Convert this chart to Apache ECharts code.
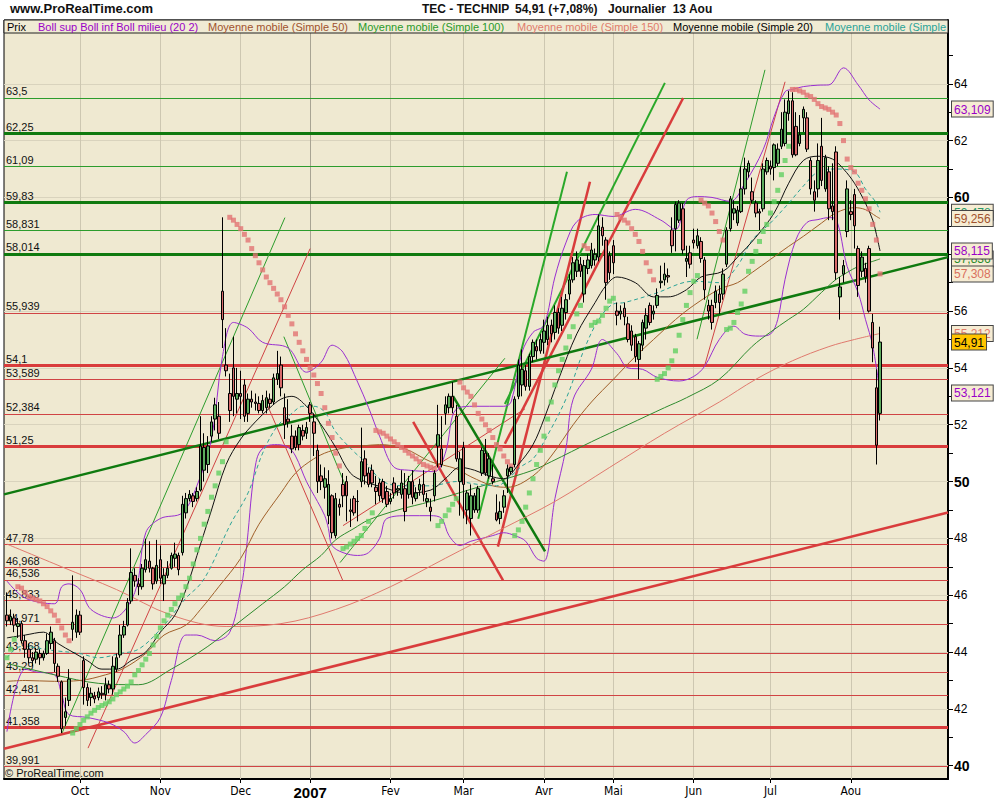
<!DOCTYPE html>
<html><head><meta charset="utf-8">
<script src="https://cdn.jsdelivr.net/npm/echarts@6/dist/echarts.min.js"></script>
<style>html,body{margin:0;padding:0;background:#fff}#c{width:1000px;height:800px}</style>
</head><body><div id="c"></div>
<script>
// ---------- DATA ----------
// one row per trading day from 4 Sept 2006 (index 0) to 13 Aug 2007 (index 239): [open, close, low, high]
const ohlc = [
[45.30,45.10,44.90,46.10],[45.10,45.25,44.95,45.50],[45.20,44.95,44.70,45.35],[44.90,45.00,44.50,45.20],[45.00,44.40,44.30,45.10],
[44.40,44.10,43.80,44.60],[44.10,43.80,43.60,44.30],[43.80,43.70,43.50,44.00],[43.75,44.00,43.60,44.15],[43.95,43.80,43.55,44.10],
[43.80,43.95,43.70,44.05],[43.95,44.40,43.90,44.65],[44.30,44.70,44.10,44.90],[44.40,43.60,43.30,44.50],[43.50,43.15,42.95,43.60],
[42.95,41.30,41.15,43.00],[41.70,41.90,41.40,42.40],[42.30,43.05,42.10,43.40],[44.80,45.05,44.40,46.70],[44.70,45.30,44.50,45.50],
[45.30,44.70,44.60,45.45],[43.70,42.75,42.15,43.85],[42.75,42.30,42.10,42.90],[42.40,42.55,42.10,42.75],[42.45,42.35,42.20,42.60],
[42.40,42.60,42.30,42.75],[42.55,42.50,42.35,42.80],[42.50,42.85,42.30,43.10],[42.85,42.70,42.55,43.00],[42.70,43.50,42.50,43.85],
[43.40,43.80,43.30,43.95],[43.90,44.60,43.80,44.95],[44.60,44.90,44.50,45.10],[44.95,45.75,44.90,45.90],[45.80,46.80,45.70,47.65],
[46.70,46.50,46.30,46.95],[46.40,46.30,46.00,46.60],[46.30,46.95,46.20,47.10],[46.90,47.25,46.80,47.99],[47.20,46.95,46.80,47.90],
[46.95,46.40,46.20,47.00],[46.50,47.05,46.40,47.95],[47.25,46.60,46.40,47.75],[46.40,46.70,45.80,46.95],[46.70,46.95,46.60,47.20],
[46.95,47.40,46.90,47.50],[47.30,47.45,47.00,47.85],[47.40,46.90,46.70,47.50],[47.50,49.20,47.40,49.50],[48.90,49.40,48.70,49.60],
[49.40,49.55,49.30,49.70],[49.50,49.30,49.10,49.60],[49.40,49.65,49.30,49.80],[49.70,51.25,49.65,52.30],[50.40,51.20,50.00,51.70],
[50.60,51.25,50.30,51.60],[51.60,52.10,51.40,52.30],[52.20,52.70,51.80,52.95],[52.30,51.70,51.50,52.80],[56.70,55.70,54.70,59.30],
[54.10,53.90,53.70,55.40],[53.10,52.50,52.10,53.80],[54.00,53.00,52.30,55.10],[52.90,53.10,52.40,54.00],[53.10,53.00,52.20,53.90],
[53.40,52.30,52.10,53.60],[52.40,52.90,52.10,53.10],[52.90,52.80,52.60,53.20],[52.80,52.75,52.50,53.10],[52.75,52.50,52.40,53.00],
[52.50,52.85,52.40,53.05],[52.60,52.95,52.40,53.20],[52.90,52.75,52.60,53.10],[52.80,53.65,52.70,53.80],[53.60,53.80,53.40,54.60],
[54.10,53.30,53.00,54.40],[52.60,52.00,51.50,53.10],[52.20,52.10,51.90,52.90],[51.60,51.15,51.00,52.00],[51.60,51.20,51.10,51.80],
[51.30,51.90,51.10,52.00],[51.80,51.60,51.45,52.00],[51.70,51.90,51.50,52.10],[52.70,52.40,52.10,52.80],[52.10,51.70,50.90,52.40],
[51.10,50.00,49.60,51.30],[50.20,50.00,49.70,50.60],[49.80,50.10,49.40,50.50],[48.80,49.90,48.50,50.40],[49.50,48.20,48.00,49.55],
[48.10,49.40,48.00,49.60],[49.20,49.10,48.80,49.40],[49.90,49.50,49.10,50.30],[50.00,49.50,48.60,50.20],[49.00,48.95,48.40,49.40],
[49.40,48.90,48.80,49.50],[49.30,49.30,48.60,49.70],[50.00,50.70,49.80,51.90],[50.80,50.20,49.90,51.10],[50.30,49.90,49.80,50.50],
[50.40,49.95,49.80,50.60],[49.80,49.65,49.20,50.20],[49.95,49.50,49.30,50.10],[50.00,49.40,49.25,50.10],[49.65,49.20,49.10,49.85],
[49.30,49.40,49.20,49.60],[49.95,49.60,49.40,50.15],[49.70,49.75,49.50,49.85],[49.55,49.95,49.40,50.40],[49.75,48.95,48.60,50.30],
[49.55,50.00,49.40,50.20],[50.00,49.45,49.20,50.40],[49.40,49.60,49.30,49.80],[49.70,49.90,49.50,50.10],[49.90,49.55,49.30,50.40],
[49.30,49.40,49.10,49.60],[49.10,48.95,48.60,49.40],[49.50,50.30,49.30,50.40],[51.25,51.65,50.50,52.70],[51.15,50.60,50.50,52.30],
[52.40,52.70,52.00,53.00],[52.60,53.00,52.40,53.10],[53.00,52.60,52.40,53.50],[52.30,50.80,50.70,52.70],[50.00,50.80,48.80,51.05],
[51.20,49.90,48.70,51.40],[49.00,49.60,48.50,49.70],[48.70,49.50,48.10,49.90],[49.00,49.50,48.90,49.60],[49.00,49.75,48.90,49.85],
[50.30,51.10,50.20,51.20],[51.00,50.30,50.20,51.50],[50.20,50.80,50.10,51.00],[50.10,50.00,49.90,50.60],[48.90,48.65,48.60,49.55],
[48.70,48.95,48.50,49.30],[49.10,49.50,48.90,49.70],[50.20,50.45,49.60,50.60],[50.35,50.50,50.25,50.52],[50.60,52.90,50.50,53.00],
[53.00,54.10,52.90,54.30],[53.40,53.95,53.00,54.65],[53.90,53.35,53.20,54.10],[53.35,54.40,53.20,54.50],[54.40,54.90,54.20,55.00],
[54.75,54.60,54.30,55.00],[54.60,55.00,54.50,55.20],[54.90,55.30,54.50,55.70],[55.00,55.50,54.80,55.80],[55.50,55.20,54.90,55.70],
[55.25,55.95,55.00,56.20],[55.95,55.40,55.20,56.10],[55.50,56.10,55.30,56.50],[55.95,56.40,55.70,56.60],[56.60,57.10,56.40,57.30],
[57.10,57.70,57.00,57.90],[57.40,57.80,57.20,58.10],[57.65,57.40,57.20,57.90],[56.60,57.60,56.30,57.80],[57.50,57.80,57.30,58.00],
[57.60,58.15,57.50,58.40],[57.80,58.00,57.60,58.20],[57.90,59.00,57.75,59.40],[58.95,58.65,58.30,59.30],[58.50,57.00,56.40,58.60],
[57.95,57.35,57.10,58.10],[58.30,57.70,57.30,58.50],[56.00,55.85,55.50,56.30],[55.90,56.00,55.70,56.20],[56.10,55.80,55.50,56.30],
[55.55,55.00,54.90,55.80],[55.30,54.80,54.60,55.50],[55.10,54.40,54.20,55.20],[54.30,54.85,53.60,54.95],[54.80,55.60,54.60,55.70],
[55.40,55.85,55.00,56.10],[56.20,55.60,55.50,56.30],[55.90,56.00,55.70,56.20],[56.20,56.55,56.10,56.80],[57.00,57.05,56.80,57.60],
[57.10,57.30,56.90,57.70],[57.25,57.20,57.00,57.50],[58.85,58.30,58.05,59.30],[58.90,59.75,58.10,59.85],[59.20,59.80,59.10,59.90],
[59.60,58.15,58.00,59.80],[57.75,57.85,57.20,58.30],[58.05,57.65,57.50,58.30],[58.50,58.40,58.20,58.90],[58.30,58.65,58.20,58.90],
[58.45,57.85,57.70,58.60],[57.80,56.75,56.40,57.90],[56.20,56.00,55.70,56.40],[56.20,55.60,55.35,56.40],[56.30,56.70,56.10,56.90],
[56.60,56.30,55.90,56.90],[56.60,57.30,56.40,57.50],[57.65,58.85,57.55,58.95],[58.90,59.95,58.80,60.05],[59.45,59.60,59.20,59.90],
[59.10,59.55,59.00,59.70],[59.50,60.30,59.45,61.10],[60.30,61.00,60.10,61.40],[60.90,61.20,60.70,61.30],[60.20,59.90,59.80,60.70],
[59.80,59.45,59.30,59.90],[59.50,59.45,58.85,59.60],[59.60,61.00,59.50,61.20],[60.90,61.30,60.80,61.40],[61.10,61.00,60.80,61.30],
[61.05,61.85,60.60,61.90],[61.20,61.70,61.10,61.90],[61.80,62.40,61.70,63.00],[61.90,63.00,61.80,63.45],[62.95,63.40,62.70,63.75],
[63.40,61.50,61.40,63.70],[62.50,61.50,61.45,63.00],[61.90,62.20,61.80,62.90],[62.80,63.10,62.30,63.20],[62.80,61.70,61.60,63.00],
[61.30,60.30,60.10,61.40],[60.20,59.90,59.50,60.60],[60.30,61.30,60.00,61.90],[61.80,60.60,60.40,62.80],[60.30,61.40,60.20,61.50],
[60.90,59.60,59.20,61.10],[59.70,59.50,59.20,61.20],[61.60,57.35,57.10,61.80],[56.50,56.85,55.70,57.20],[57.30,57.60,57.00,57.80],
[58.80,60.30,58.60,60.60],[59.50,59.40,59.20,59.90],[60.10,59.00,58.20,60.30],[58.20,56.90,56.50,58.30],[57.40,57.90,57.20,58.10],
[57.50,57.20,57.00,57.70],[58.20,56.00,55.95,58.30],[55.60,54.70,54.20,55.90],[53.30,51.28,50.60,53.95],[52.40,54.91,52.15,55.45]
];

// parabolic SAR dot per trading day
const sar = [
43.8,44.1,44.45,
46.3,46.25,46.1,45.95,45.9,45.85,45.8,45.7,45.6,45.45,45.3,45.1,44.85,44.6,44.4,
41.15,41.3,41.45,41.6,41.72,41.85,41.95,42.05,42.12,42.18,42.25,42.35,42.5,42.6,42.7,42.8,42.95,43.2,43.35,43.55,43.75,43.95,44.25,44.55,44.85,45.1,45.3,45.5,45.7,45.9,46.0,46.3,46.6,47.1,47.6,48.0,48.5,48.95,49.45,49.85,50.3,50.7,51.4,
59.3,59.2,59.05,58.9,58.7,58.5,58.2,57.95,57.7,57.45,57.2,57.0,56.8,56.6,56.4,56.15,55.85,55.55,55.2,54.9,54.6,54.3,54.0,53.75,53.45,53.1,52.6,52.05,51.55,51.0,50.55,
47.64,47.7,47.8,47.9,48.0,48.1,48.35,48.6,48.9,
51.8,51.75,51.7,51.6,51.5,51.4,51.3,51.2,51.1,51.0,50.9,50.8,50.7,50.6,50.55,50.5,50.45,
48.45,48.6,48.8,49.0,49.2,49.4,
53.5,53.3,53.15,53.0,52.7,52.4,52.2,52.0,51.8,51.55,51.3,51.15,50.9,50.7,50.55,
48.1,48.3,48.6,49.1,49.6,50.1,50.6,51.1,51.6,52.2,52.8,53.4,53.9,54.3,54.7,55.1,55.45,55.9,56.2,
58.3,58.2,
55.5,55.6,55.65,55.85,56.1,56.35,56.45,
59.4,59.3,59.2,59.1,58.9,58.7,58.45,58.1,57.7,57.4,57.1,
53.6,53.7,53.8,54.0,54.25,54.6,55.15,55.7,56.2,56.65,57.05,57.25,
59.9,59.8,59.7,59.45,59.15,58.8,58.5,
55.35,55.4,55.6,55.95,56.25,56.7,57.4,57.75,58.1,58.45,58.8,59.05,59.45,59.85,60.25,60.8,61.3,61.8,
63.8,63.8,63.75,63.7,63.6,63.55,63.45,63.3,63.2,63.15,63.1,63.0,62.9,62.6,62.0,61.35,61.05,60.9,60.5,60.25,59.95,59.6,59.05,58.5,57.31
];

// indicator lines read at sample days: [day index, value]
const bollUp = [[0,46.5],[5,45.9],[13,45.7],[15,46.3],[17,46.4],[20,46.2],[23,45.5],[29,45.2],[35,46.1],[38,48.2],[42,48.7],[48,48.9],[52,49.85],[56,51.5],[59,54.4],[62,55.6],[66,55.4],[70,54.9],[77,54.7],[82,53.85],[86,54.2],[89,54.8],[92,54.55],[96,53.5],[99,52.6],[102,51.6],[106,50.5],[110,50.4],[117,50.35],[120,51.0],[123,52.55],[128,52.65],[136,52.65],[138,52.8],[141,54.55],[144,55.25],[147,55.5],[150,57.2],[153,58.4],[156,59.15],[161,59.4],[166,59.33],[172,59.58],[179,59.2],[183,58.87],[186,59.9],[189,60.03],[193,60.0],[198,59.86],[202,60.5],[207,61.68],[210,62.84],[213,63.72],[215,63.8],[218,63.9],[222,63.95],[225,63.96],[229,64.56],[233,63.96],[236,63.43],[239,63.109]];
const bollDn = [[0,41.2],[5,43.4],[8,43.3],[13,43.2],[15,42.5],[17,41.8],[22,41.7],[28,41.5],[32,41.2],[35,40.8],[38,41.1],[42,41.7],[45,43.0],[49,44.6],[52,44.6],[57,44.4],[61,44.7],[64,46.2],[65,47.0],[66,48.2],[67,49.6],[68,50.55],[69,51.0],[71,51.25],[74,51.3],[77,51.2],[79,50.9],[82,50.0],[85,49.3],[87,48.8],[88,48.35],[89,47.75],[92,47.5],[96,47.4],[99,47.5],[102,48.0],[104,48.7],[110,48.8],[116,48.8],[119,48.7],[121,48.1],[124,47.75],[127,47.9],[130,48.0],[133,48.1],[136,48.2],[139,48.1],[142,47.9],[145,47.3],[147,47.2],[150,49.4],[153,51.15],[155,52.9],[160,53.96],[163,55.0],[167,54.5],[170,54.0],[174,53.95],[178,53.67],[184,53.54],[188,53.7],[191,54.06],[195,55.0],[199,55.47],[202,55.19],[206,55.12],[209,55.19],[211,55.71],[213,57.12],[216,58.52],[219,59.12],[222,59.22],[225,59.29],[227,59.22],[230,57.57],[233,56.65],[235,55.71],[237,54.77],[239,53.121]];
const sma20 = [[0,44.5],[5,44.6],[10,44.7],[14,44.3],[18,44.0],[22,43.7],[26,43.4],[30,43.4],[34,43.7],[38,44.0],[42,44.7],[46,45.3],[49,46.2],[53,47.8],[56,49.0],[60,50.6],[64,51.5],[68,52.1],[72,52.6],[75,52.9],[78,53.0],[82,52.65],[86,52.0],[90,51.2],[94,50.3],[98,50.0],[103,49.8],[109,49.6],[116,49.7],[120,50.1],[124,50.5],[128,50.4],[132,50.2],[136,50.1],[140,50.6],[144,51.3],[147,52.2],[151,53.6],[156,55.2],[161,56.3],[164,56.9],[167,57.2],[172,57.0],[177,56.5],[181,56.5],[186,56.75],[190,57.2],[196,57.4],[200,57.9],[205,58.6],[210,59.45],[214,60.5],[218,61.3],[222,61.45],[226,61.35],[229,61.0],[232,60.5],[235,59.8],[237,59.2],[238,58.7],[239,58.115]];
const sma50 = [[0,42.97],[5,43.0],[13,42.97],[20,43.0],[27,43.2],[32,43.43],[38,43.95],[43,44.6],[49,44.95],[53,45.5],[58,46.3],[64,47.3],[69,48.5],[75,49.6],[79,50.3],[84,50.8],[88,51.05],[93,51.2],[97,51.25],[102,51.3],[109,51.15],[116,50.7],[123,50.45],[127,50.17],[133,49.85],[137,49.8],[144,50.2],[149,50.9],[155,52.0],[160,52.8],[166,53.6],[172,54.4],[177,55.0],[183,55.7],[188,56.2],[195,56.77],[200,57.0],[204,57.36],[209,57.82],[214,58.28],[218,58.63],[223,59.1],[227,59.46],[232,59.64],[235,59.57],[238,59.33],[239,59.256]];
const sma100 = [[0,43.6],[13,43.2],[25,42.9],[36,42.85],[45,43.4],[55,44.2],[62,44.9],[70,45.7],[76,46.3],[81,46.9],[86,47.4],[90,47.95],[95,48.35],[99,48.65],[107,49.0],[116,49.3],[125,49.65],[134,50.0],[144,50.4],[149,50.7],[160,51.4],[170,52.0],[180,52.6],[186,52.95],[195,53.6],[204,54.76],[209,55.26],[214,55.71],[218,56.06],[223,56.66],[227,57.12],[230,57.36],[233,57.57],[237,57.75],[239,57.836]];
const sma150 = [[0,47.8],[15,47.0],[30,46.2],[45,45.3],[60,44.9],[75,45.0],[90,45.5],[105,46.3],[120,47.3],[135,48.3],[150,49.3],[165,50.5],[180,51.7],[195,52.8],[205,53.6],[215,54.25],[225,54.75],[232,55.0],[239,55.212]];
const smaLast = [[0,43.8],[4,44.2],[13,44.05],[20,43.95],[25,43.8],[31,43.95],[36,44.1],[42,44.8],[49,45.9],[53,46.4],[56,47.05],[61,48.45],[66,49.6],[70,51.0],[74,51.95],[78,52.4],[81,52.65],[84,52.65],[87,52.45],[90,51.75],[95,51.05],[98,50.7],[103,50.0],[109,49.85],[116,49.85],[123,50.0],[129,49.9],[134,49.85],[138,50.2],[141,50.55],[144,50.8],[147,51.4],[153,52.9],[158,54.65],[162,55.7],[166,56.25],[169,56.3],[177,56.6],[188,57.05],[195,57.0],[200,57.6],[204,58.5],[209,59.1],[214,59.8],[218,60.4],[222,60.9],[227,61.0],[232,60.9],[235,60.3],[238,59.8],[239,59.478]];

// horizontal support / resistance levels
const greenLevelsThick = [62.25, 59.83, 58.014];
const greenLevelsThin = [63.5, 61.09, 58.831];
const redLevelsThick = [54.1, 51.25, 41.358];
const redLevelsThin = [55.939, 53.589, 52.384, 47.78, 46.968, 46.536, 45.833, 44.971, 43.968, 43.29, 42.481, 39.991];

// trend lines: [[day, value], [day, value]]
const trendGreenThick = [[[-0.8,49.55],[257.6,57.9]], [[122.1,53.01],[147.3,47.54]]];
const trendGreenMid = [[[129,48.69],[153.3,60.9]], [[136.3,52.73],[180.1,64.03]]];
const trendGreenThin = [[[15.1,41.15],[76.1,59.29]], [[75.8,55.1],[93,49.75]], [[91.2,47.15],[136.3,54.34]], [[188.9,55.01],[207.5,64.49]]];
const trendRedThick = [[[-0.8,40.6],[257.6,48.91]], [[111.2,52.1],[135.8,46.52]], [[134.4,47.71],[159.6,60.55]], [[136.3,51.33],[185.1,63.5]]];
const trendRedThin = [[[22.2,40.62],[83,58.2]], [[70.6,52.9],[92,46.5]], [[92,48.45],[141.8,52.56]], [[191.1,54.13],[213,64.07]]];

// axes
const monthStart = [20, 42, 64, 83, 105, 125, 147, 166, 188, 209, 231];
const monthNames = ['Oct', 'Nov', 'Dec', '2007', 'Fev', 'Mar', 'Avr', 'Mai', 'Jun', 'Jul', 'Aou'];
const priceLabels = [40, 42, 44, 46, 48, 50, 52, 54, 56, 58, 60, 62, 64];
const priceTicks = [40,41,42,43,44,45,46,47,48,49,50,51,52,53,54,55,56,57,58,59,60,61,62,63,64,65];
const lastValues = [63.109, 59.478, 59.256, 57.836, 58.115, 57.308, 55.212, 54.91, 53.121];
const lastKinds = ['boll', 'mal', 'ma50', 'ma100', 'boll', 'sar', 'ma150', 'price', 'boll'];

// legend texts
const legendItems = ['Prix', 'Boll sup Boll inf Boll milieu (20 2)', 'Moyenne mobile (Simple 50)', 'Moyenne mobile (Simple 100)', 'Moyenne mobile (Simple 150)', 'Moyenne mobile (Simple 20)', 'Moyenne mobile (Simple'];

// ---------- STYLE ----------
const C = {
  bg: '#efe9d1', up: '#5cab5c', down: '#d86a6a', boll: '#9a2fd0', ma20: '#111', ma50: '#a0602a',
  ma100: '#2e8b2e', ma150: '#e07a6e', mal: '#2aa396', sarR: '#e27373', sarG: '#62d062',
  gThick: '#0f7a0f', gThin: '#2c9c2c', gMid: '#2aa82a', rThick: '#d93c3c', rThin: '#d04444', grid: '#d9d3bd', vgrid: '#cdc7b1'
};
const legendX = [7, 38, 208, 358, 517, 673, 825];
const legendColors = ['#000', '#9a00c8', '#a0522d', '#2a9a2a', '#e07b6b', '#000', '#2aa398'];
const FONT = 'Liberation Sans, Arial, sans-serif';
const fmt = v => String(v).replace('.', ',');

const candleData = ohlc.map((r, i) => [i, r[0], r[1], r[2], r[3]]);
const sarRed = [], sarGreen = [];
sar.forEach((v, i) => { (v > ohlc[i][1] ? sarRed : sarGreen).push([i, v]); });

function lineSeries(name, data, color, extra) {
  return Object.assign({
    name, type: 'line', data, smooth: 0.35, showSymbol: false, symbol: 'none', z: 5,
    lineStyle: { color, width: 1 }, silent: true, animation: false
  }, extra || {});
}
function trendItems(list, color, width) {
  return list.map(seg => [{ coord: seg[0], lineStyle: { color, width, type: 'solid' } }, { coord: seg[1] }]);
}
function levelItems(list, color, width) {
  return list.map(v => ({ yAxis: v, lineStyle: { color, width, type: 'solid' },
    label: { show: true, position: 'insideStartTop', formatter: fmt(v), color: '#111', fontSize: 11, fontFamily: FONT, distance: [2, 1] } }));
}

const gridLines = priceLabels.map(v => ({ yAxis: v, lineStyle: { color: C.grid, width: 1, type: 'solid' } }))
  .concat(monthStart.map((d, k) => ({ xAxis: d, lineStyle: { color: k === 3 ? '#a8a493' : C.vgrid, width: 1, type: 'solid' } })));

const richLast = {
  boll: { color: '#9a00c8' }, mal: { color: '#2a9a6a' }, ma50: { color: '#a0522d' }, ma100: { color: '#2a8a2a' },
  sar: { color: '#d9705e' }, ma150: { color: '#e07b6b' }, price: { color: '#000', backgroundColor: '#ffc400' }
};
Object.keys(richLast).forEach(k => Object.assign(richLast[k], {
  backgroundColor: richLast[k].backgroundColor || '#f6ecd3', borderColor: '#444', borderWidth: 1,
  padding: [2, 2, 1, 2], fontSize: 12, fontFamily: FONT
}));

const graphics = [
  { type: 'rect', z: 100, shape: { x: 4, y: 20, width: 944, height: 13 }, style: { fill: '#f0ebd4', stroke: '#222', lineWidth: 1 } },
  { type: 'text', z: 101, x: 10, y: 2, style: { text: 'www.ProRealTime.com', font: 'bold 13px ' + FONT, fill: '#111' } },
  { type: 'text', z: 101, x: 422, y: 3, style: { text: 'TEC - TECHNIP', font: 'bold 12px ' + FONT, fill: '#111' } },
  { type: 'text', z: 101, x: 515, y: 3, style: { text: '54,91 (+7,08%)', font: 'bold 12px ' + FONT, fill: '#111' } },
  { type: 'text', z: 101, x: 608, y: 3, style: { text: 'Journalier  13 Aou', font: 'bold 12px ' + FONT, fill: '#111' } },
  { type: 'text', z: 101, x: 5, y: 767, style: { text: '\u00a9 ProRealTime.com', font: '11px ' + FONT, fill: '#111' } }
].concat(legendItems.map((t, k) => ({ type: 'text', z: 101, x: legendX[k], y: 21, style: { text: t, font: '11px ' + FONT, fill: legendColors[k] } })));

const chart = echarts.init(document.getElementById('c'), null, { renderer: 'svg' });
chart.setOption({
  animation: false,
  backgroundColor: '#fff',
  textStyle: { fontFamily: FONT },
  grid: { left: 4, right: 52, top: 20, bottom: 19, show: true, backgroundColor: C.bg, borderColor: '#000', borderWidth: 1 },
  xAxis: {
    type: 'value', min: -0.8, max: 257.6,
    axisLine: { show: true, onZero: false, lineStyle: { color: '#000', width: 2 } },
    axisTick: { show: true, customValues: monthStart, length: 4, lineStyle: { color: '#000' } },
    axisLabel: {
      customValues: monthStart, margin: 6, color: '#000', fontSize: 12, fontFamily: 'Liberation Sans Narrow, Arial Narrow, DejaVu Sans Condensed, sans-serif',
      formatter: v => { const n = monthNames[monthStart.indexOf(v)]; return n === '2007' ? '{y|2007}' : n; },
      rich: { y: { fontWeight: 'bold', fontSize: 15, fontFamily: 'Liberation Sans Narrow, Arial Narrow, sans-serif', color: '#000' } }
    },
    splitLine: { show: false }
  },
  yAxis: [{
    type: 'value', position: 'right', min: 39.533, max: 66.244, scale: true,
    axisLine: { show: true, onZero: false, lineStyle: { color: '#000', width: 2 } },
    axisTick: { show: true, customValues: priceTicks, length: 5, lineStyle: { color: '#000' } },
    axisLabel: {
      customValues: priceLabels, margin: 6, color: '#000', fontSize: 12,
      formatter: v => (v % 10 === 0 ? '{b|' + v + '}' : '{n|' + v + '}'),
      rich: { b: { fontWeight: 'bold', fontSize: 14, color: '#000' }, n: { fontSize: 12, color: '#000' } }
    },
    splitLine: { show: false }
  }, {
    type: 'value', position: 'right', min: 39.533, max: 66.244, scale: true,
    axisLine: { show: false }, axisTick: { show: false },
    axisLabel: {
      customValues: lastValues, margin: 4,
      formatter: v => '{' + lastKinds[lastValues.indexOf(v)] + '|' + fmt(v) + '}',
      rich: richLast
    },
    splitLine: { show: false }
  }],
  graphic: graphics,
  series: [
    lineSeries('Boll inf', bollDn, C.boll, {
      markLine: { z: 1, silent: true, symbol: ['none', 'none'], label: { show: false }, data: gridLines, animation: false }
    }),
    lineSeries('Boll sup', bollUp, C.boll),
    lineSeries('MM150', sma150, C.ma150, {
      markLine: { z: 2, silent: true, symbol: ['none', 'none'], animation: false,
        data: levelItems(redLevelsThin, C.rThin, 1).concat(levelItems(greenLevelsThin, C.gThin, 1))
          .concat(levelItems(redLevelsThick, C.rThick, 3)).concat(levelItems(greenLevelsThick, C.gThick, 3)) }
    }),
    lineSeries('MM100', sma100, C.ma100, {
      markLine: { z: 3, silent: true, symbol: ['none', 'none'], label: { show: false }, animation: false,
        data: trendItems(trendGreenThin, C.gThin, 1).concat(trendItems(trendRedThin, C.rThin, 1))
          .concat(trendItems(trendGreenMid, C.gMid, 2)).concat(trendItems(trendRedThick, C.rThick, 2.5))
          .concat(trendItems(trendGreenThick, C.gThick, 2.5)) }
    }),
    lineSeries('MM50', sma50, C.ma50),
    lineSeries('MM', smaLast, C.mal, { lineStyle: { color: C.mal, width: 1, type: [4, 3] } }),
    lineSeries('MM20', sma20, C.ma20),
    { name: 'SAR-', type: 'scatter', data: sarRed, symbol: 'rect', symbolSize: 5, z: 8, silent: true, itemStyle: { color: C.sarR } },
    { name: 'SAR+', type: 'scatter', data: sarGreen, symbol: 'rect', symbolSize: 5, z: 8, silent: true, itemStyle: { color: C.sarG } },
    {
      name: 'Prix', type: 'candlestick', data: candleData, encode: { x: 0, y: [1, 2, 3, 4] }, z: 10, silent: true,
      barWidth: 3,
      itemStyle: { color: C.up, color0: C.down, borderColor: '#000', borderColor0: '#000', borderWidth: 1 }
    }
  ]
});
</script>
</body></html>
